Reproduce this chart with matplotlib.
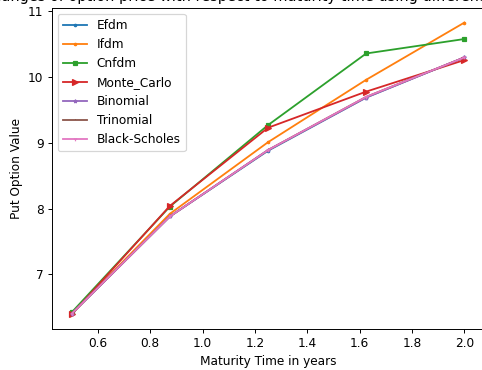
import matplotlib

matplotlib.use("Agg")
import matplotlib.pyplot as plt

DPI = 87

maturity = [0.5, 0.875, 1.25, 1.625, 2.0]

efdm = [6.40, 7.88, 8.88, 9.69, 10.30]
ifdm = [6.40, 7.92, 9.01, 9.96, 10.83]
cnfdm = [6.42, 8.03, 9.27, 10.36, 10.58]
monte_carlo = [6.39, 8.04, 9.23, 9.78, 10.26]
binomial = [6.40, 7.88, 8.89, 9.69, 10.30]
trinomial = [6.40, 7.88, 8.89, 9.70, 10.30]
black_scholes = [6.40, 7.88, 8.89, 9.70, 10.30]

SERIES = [
    ("Efdm", efdm, "."),
    ("Ifdm", ifdm, "."),
    ("Cnfdm", cnfdm, "s"),
    ("Monte_Carlo", monte_carlo, ">"),
    ("Binomial", binomial, "*"),
    ("Trinomial", trinomial, ","),
    ("Black-Scholes", black_scholes, "1"),
]
SIZES = {".": 4, "s": 3, ">": 5, "*": 3, ",": 1, "1": 3}

fig = plt.figure(figsize=(482 / DPI, 370 / DPI), dpi=DPI)
ax = fig.add_axes([52 / 482, 41 / 370, 432 / 482, 321 / 370])

for name, ys, marker in SERIES:
    ax.plot(maturity, ys, marker=marker, markersize=SIZES[marker], label=name)

ax.set_title("Changes of option price with respect to maturity time using different methods")
ax.set_xlabel("Maturity Time in years")
ax.set_ylabel("Put Option Value")
ax.legend(loc="upper left")

fig.savefig("out.png", dpi=DPI)
